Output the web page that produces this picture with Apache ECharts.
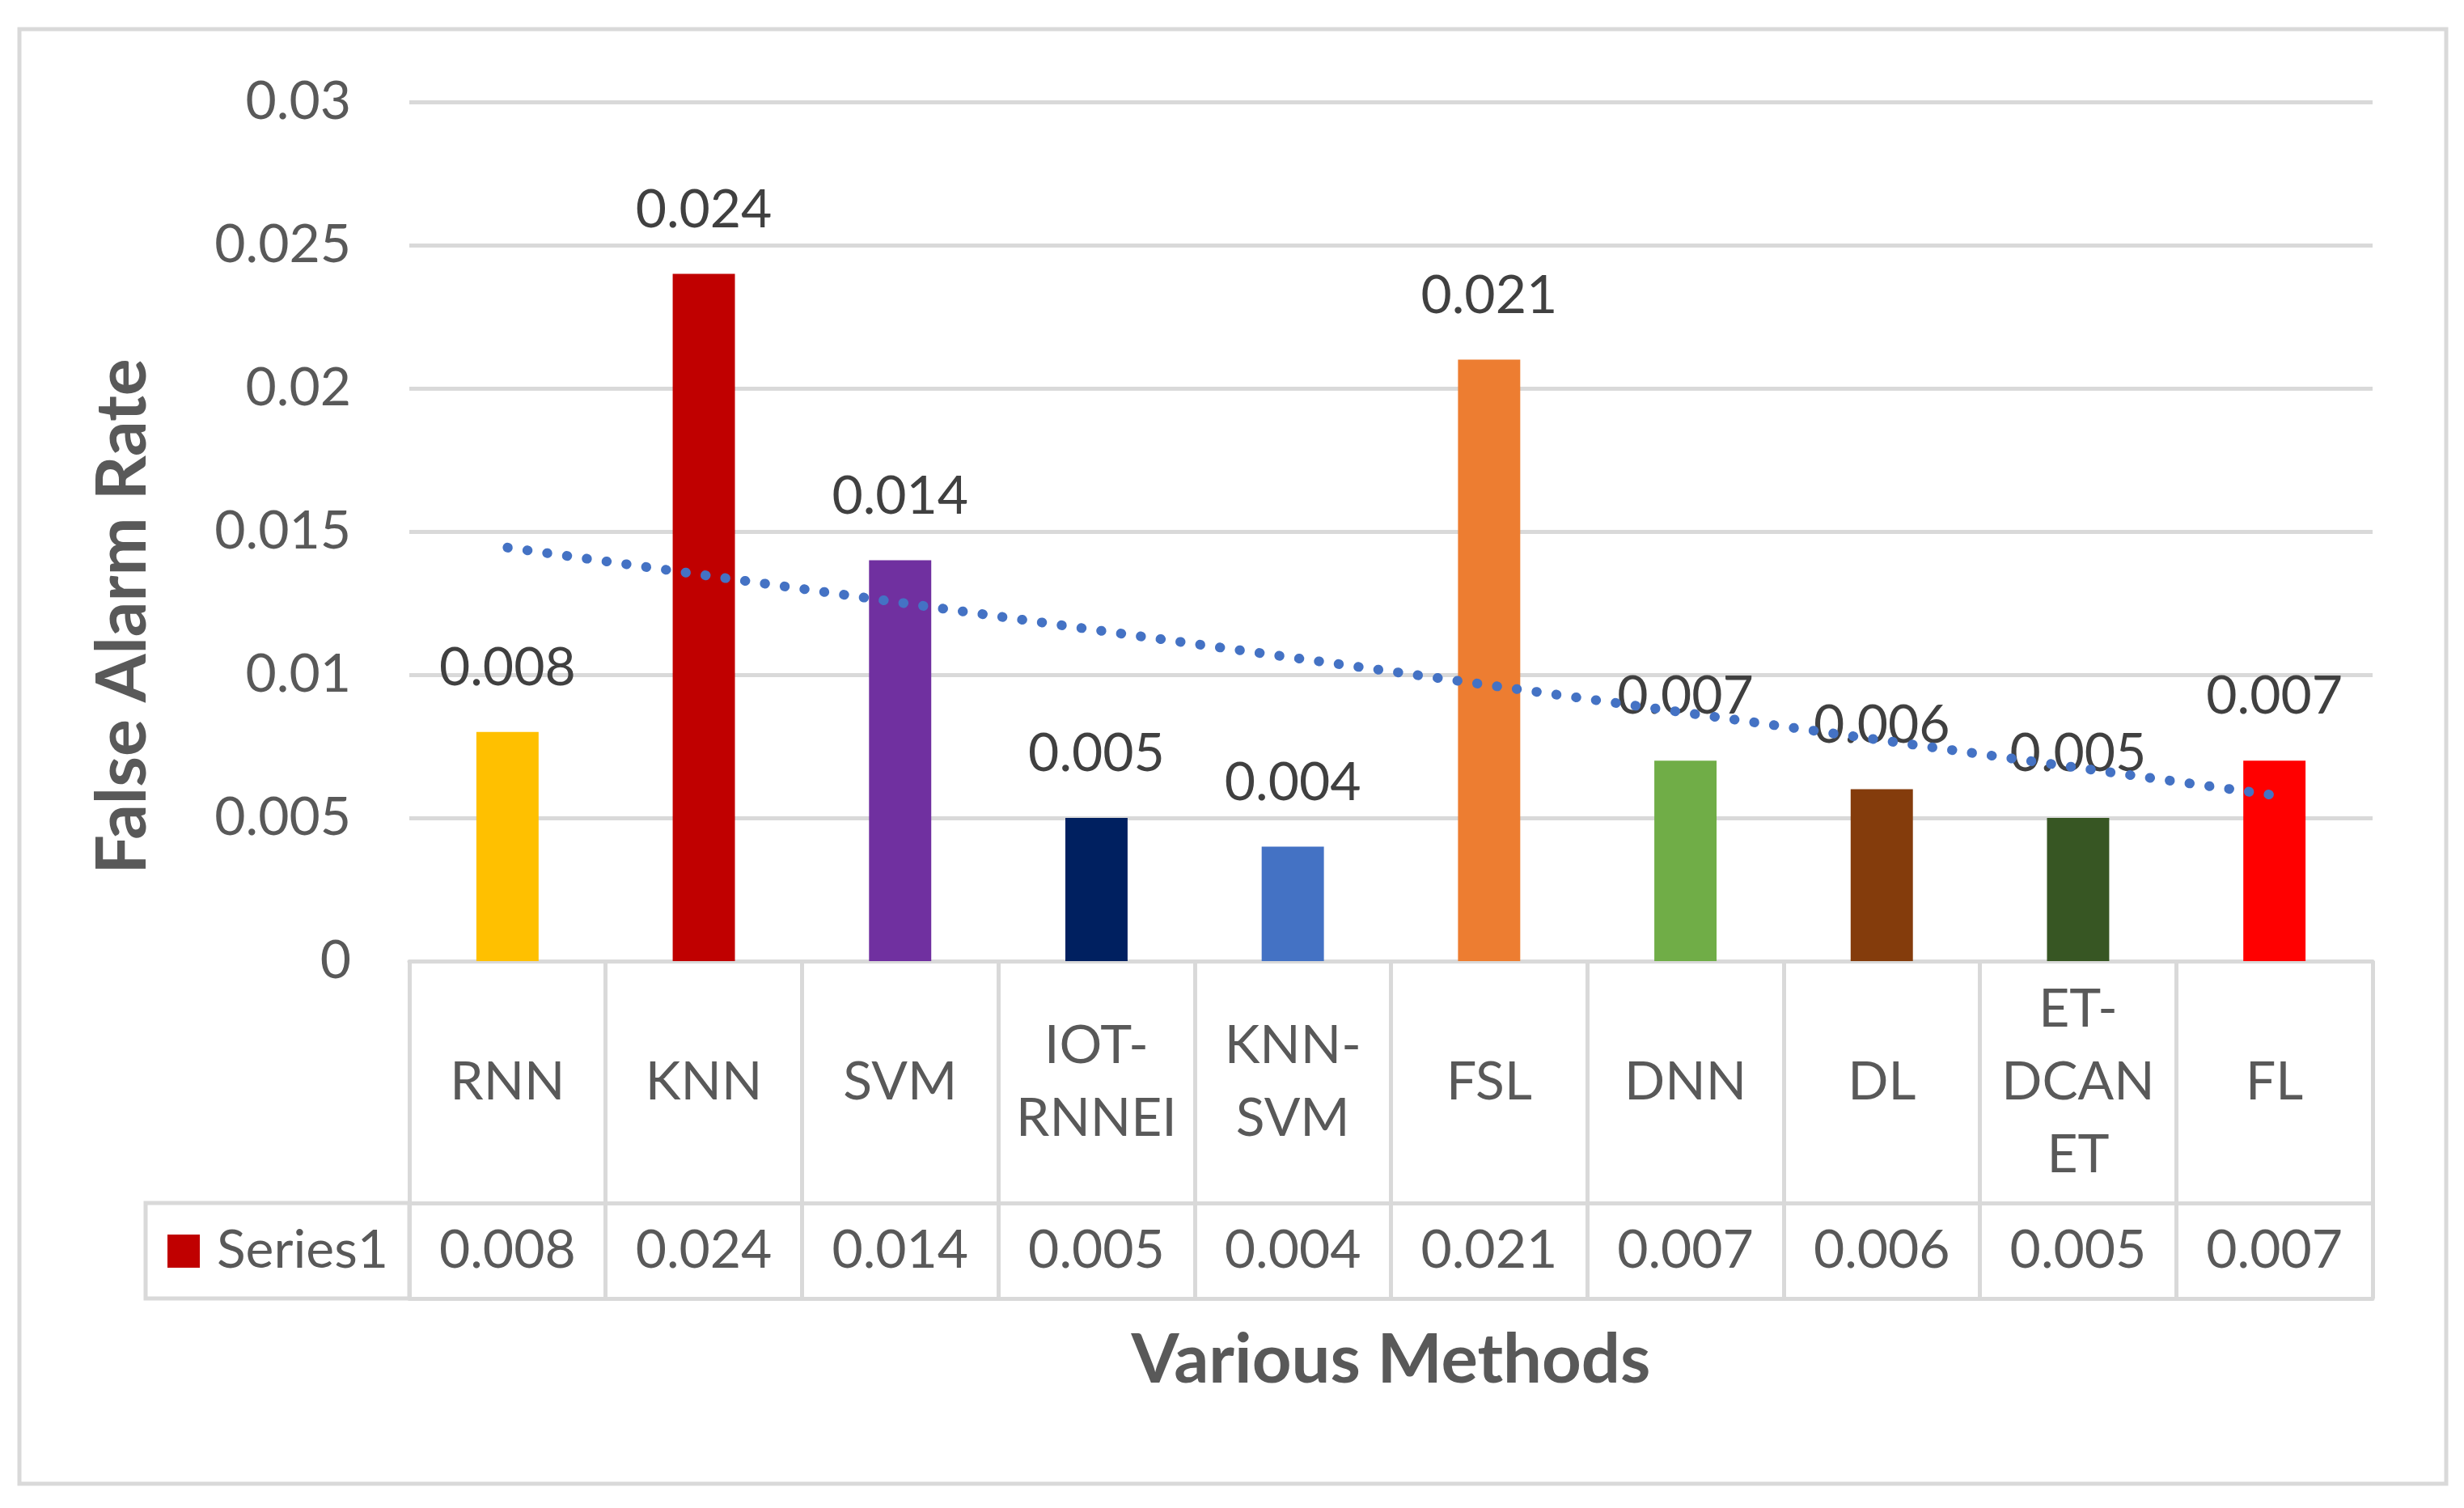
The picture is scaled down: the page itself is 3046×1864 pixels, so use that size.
<!DOCTYPE html>
<html>
<head>
<meta charset="utf-8">
<script src="https://cdn.jsdelivr.net/npm/echarts@6/dist/echarts.min.js"></script>
<style>
html,body{margin:0;padding:0;background:#fff;}
#chart{width:3046px;height:1864px;}
</style>
</head>
<body>
<div id="chart"></div>
<script>
// ---- data ----
const categories = ['RNN', 'KNN', 'SVM', 'IOT-RNNEI', 'KNN-SVM', 'FSL', 'DNN', 'DL', 'ET-DCANET', 'FL'];
const categoryLabels = ['RNN', 'KNN', 'SVM', 'IOT-\nRNNEI', 'KNN-\nSVM', 'FSL', 'DNN', 'DL', 'ET-\nDCAN\nET', 'FL'];
const values = [0.008, 0.024, 0.014, 0.005, 0.004, 0.021, 0.007, 0.006, 0.005, 0.007];
const barColors = ['#FFC000', '#C00000', '#7030A0', '#002060', '#4472C4', '#ED7D31', '#70AD47', '#843C0C', '#375623', '#FF0000'];
const trendValues = [0.01444, 0.00579]; // linear trendline at first and last category
const seriesName = 'Series1';
const yTicks = [0, 0.005, 0.01, 0.015, 0.02, 0.025, 0.03];

// ---- layout ----
const W = 3046, H = 1864;
const gridLeft = 506, gridRight = W - 2933, gridTop = 126, gridBottomY = 1188;
const row1H = 299, row2H = 118;
const lineCol = '#D9D9D9';
const font = 'Lato, "Open Sans", sans-serif';

const chart = echarts.init(document.getElementById('chart'), null, {width: W, height: H});

const option = {
  backgroundColor: '#ffffff',
  animation: false,
  grid: {left: gridLeft, right: gridRight, top: gridTop, bottom: H - gridBottomY, containLabel: false},
  xAxis: [
    {
      type: 'category', data: categories, position: 'bottom',
      axisLine: {show: true, lineStyle: {color: lineCol, width: 5}},
      axisTick: {show: true, interval: 0, length: row1H + row2H, lineStyle: {color: lineCol, width: 5}},
      axisLabel: {
        interval: 0, margin: row1H / 2, verticalAlign: 'middle', align: 'center', lineHeight: 90,
        fontFamily: font, fontSize: 66, color: '#595959',
        formatter: (v, i) => categoryLabels[i]
      },
      splitLine: {show: false}
    },
    {
      type: 'category', data: categories, position: 'bottom', offset: row1H,
      axisLine: {show: true, lineStyle: {color: lineCol, width: 5}},
      axisTick: {show: false},
      axisLabel: {
        interval: 0, margin: row2H / 2, verticalAlign: 'middle', align: 'center',
        fontFamily: font, fontSize: 66, color: '#595959',
        formatter: (v, i) => String(values[i])
      }
    },
    {
      type: 'category', data: categories, position: 'bottom', offset: row1H + row2H,
      axisLine: {show: true, lineStyle: {color: lineCol, width: 5}},
      axisTick: {show: false}, axisLabel: {show: false}
    }
  ],
  yAxis: {
    type: 'value', min: 0, max: 0.03, interval: 0.005,
    axisLine: {show: false}, axisTick: {show: false},
    splitLine: {show: true, lineStyle: {color: lineCol, width: 5}},
    axisLabel: {
      margin: 72, fontFamily: font, fontSize: 66, color: '#595959',
      formatter: v => String(parseFloat(v.toFixed(3)))
    }
  },
  series: [
    {
      name: seriesName, type: 'bar', barWidth: '31.7%',
      data: values.map((v, i) => ({value: v, itemStyle: {color: barColors[i]}})),
      label: {
        show: true, position: 'top', distance: 46,
        fontFamily: font, fontSize: 66, lineHeight: 66, color: '#404040',
        formatter: p => String(values[p.dataIndex])
      },
      z: 2
    },
    {
      name: 'Linear (Series1)', type: 'line', xAxisIndex: 0,
      data: [[0, trendValues[0]], [categories.length - 1, trendValues[1]]],
      symbol: 'none', silent: true,
      lineStyle: {color: '#4472C4', width: 12, type: [0.5, 24.2], cap: 'round'},
      z: 5
    }
  ],
  graphic: [
    {
      type: 'rect', silent: true, z: -1,
      shape: {x: 24, y: 36, width: 3000, height: 1798},
      style: {fill: 'none', stroke: lineCol, lineWidth: 5}
    },
    {
      type: 'rect', silent: true,
      shape: {x: 180, y: gridBottomY + row1H, width: gridLeft - 180, height: row2H},
      style: {fill: 'none', stroke: lineCol, lineWidth: 5}
    },
    {
      type: 'rect', silent: true,
      shape: {x: 207, y: gridBottomY + row1H + row2H / 2 - 20, width: 40, height: 41},
      style: {fill: barColors[1]}
    },
    {
      type: 'text', silent: true, x: 268, y: gridBottomY + row1H + row2H / 2,
      style: {text: seriesName, font: '66px ' + font, fill: '#595959', verticalAlign: 'middle', align: 'left'}
    },
    {
      type: 'text', silent: true, x: (gridLeft + W - gridRight) / 2, y: 1682,
      style: {text: 'Various Methods', font: 'bold 85px ' + font, fill: '#595959', align: 'center', verticalAlign: 'middle'}
    },
    {
      type: 'text', silent: true, x: 152, y: 762, rotation: Math.PI / 2,
      style: {text: 'False Alarm Rate', font: 'bold 86px ' + font, fill: '#595959', align: 'center', verticalAlign: 'middle'}
    }
  ]
};
chart.setOption(option);
</script>
</body>
</html>
